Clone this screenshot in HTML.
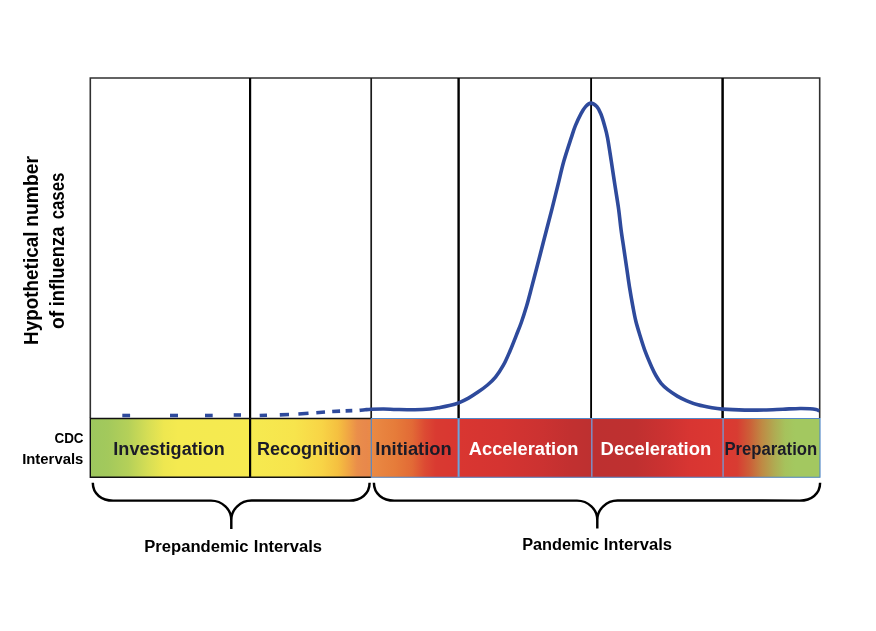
<!DOCTYPE html>
<html lang="en">
<head>
<meta charset="utf-8">
<title>CDC Pandemic Intervals</title>
<style>
html,body{margin:0;padding:0;background:#fff;}
body{width:876px;height:631px;overflow:hidden;}
svg{display:block;}
text{font-family:"Liberation Sans",sans-serif;font-weight:bold;}
.lbl{font-size:18px;}
</style>
</head>
<body>
<svg width="876" height="631" viewBox="0 0 876 631">
<defs>
<linearGradient id="band" gradientUnits="userSpaceOnUse" x1="90" y1="0" x2="820" y2="0">
<stop offset="0.0000" stop-color="#9dc75e"/>
<stop offset="0.0247" stop-color="#a3c95c"/>
<stop offset="0.0521" stop-color="#b4d059"/>
<stop offset="0.0795" stop-color="#d6de55"/>
<stop offset="0.1014" stop-color="#eee750"/>
<stop offset="0.1205" stop-color="#f4ea50"/>
<stop offset="0.2192" stop-color="#f6ea50"/>
<stop offset="0.2808" stop-color="#f7e44c"/>
<stop offset="0.3178" stop-color="#f8d446"/>
<stop offset="0.3397" stop-color="#f5c040"/>
<stop offset="0.3548" stop-color="#f0a444"/>
<stop offset="0.3658" stop-color="#ea8e4a"/>
<stop offset="0.3781" stop-color="#e8884c"/>
<stop offset="0.3849" stop-color="#ea8a44"/>
<stop offset="0.4178" stop-color="#e67c3a"/>
<stop offset="0.4411" stop-color="#e26a36"/>
<stop offset="0.4589" stop-color="#dc4a33"/>
<stop offset="0.4740" stop-color="#d93a31"/>
<stop offset="0.5055" stop-color="#d93631"/>
<stop offset="0.5616" stop-color="#d53431"/>
<stop offset="0.6164" stop-color="#cc3231"/>
<stop offset="0.6575" stop-color="#c23030"/>
<stop offset="0.6877" stop-color="#bd3030"/>
<stop offset="0.7466" stop-color="#bf3030"/>
<stop offset="0.7877" stop-color="#cc3231"/>
<stop offset="0.8219" stop-color="#d83532"/>
<stop offset="0.8658" stop-color="#dc3832"/>
<stop offset="0.8863" stop-color="#d83c32"/>
<stop offset="0.9041" stop-color="#cc6038"/>
<stop offset="0.9205" stop-color="#bf8a44"/>
<stop offset="0.9370" stop-color="#b0aa52"/>
<stop offset="0.9521" stop-color="#a6c25c"/>
<stop offset="0.9658" stop-color="#a3c860"/>
<stop offset="1.0000" stop-color="#a3c860"/>
</linearGradient>
</defs>
<rect x="0" y="0" width="876" height="631" fill="#ffffff"/>
<!-- colour band -->
<rect x="90" y="418" width="730" height="59.5" fill="url(#band)"/>
<!-- plot frame -->
<g fill="none" stroke="#303030" stroke-width="1.6">
<path d="M90.3 418 V78 H819.7 V418"/>
</g>
<!-- interval dividers -->
<g stroke="#000" fill="none">
<line x1="250.1" y1="78" x2="250.1" y2="477.5" stroke-width="2.2"/>
<line x1="371.2" y1="78" x2="371.2" y2="418" stroke-width="1.7" stroke="#1a1a1a"/>
<line x1="458.6" y1="78" x2="458.6" y2="418" stroke-width="2.4"/>
<line x1="591.1" y1="78" x2="591.1" y2="418" stroke-width="1.85"/>
<line x1="722.6" y1="78" x2="722.6" y2="418" stroke-width="2.5"/>
</g>
<!-- band borders -->
<path d="M371.3 418.5 H90.3 V477.3 H371.3" fill="none" stroke="#111" stroke-width="1.4"/>
<path d="M371.3 418.5 H820 V477.2 H371.3 Z" fill="none" stroke="#5288c8" stroke-width="1.15"/>
<path d="M458.6 419 V476.8" fill="none" stroke="#6ba3dc" stroke-width="2"/>
<path d="M591.8 419 V476.8 M723.1 419 V476.8" fill="none" stroke="#7f8fc4" stroke-width="1.5"/>
<!-- epidemic curve -->
<g stroke="#2e4a9c" stroke-width="3.6" fill="none">
<line x1="122.3" y1="415.50" x2="130.1" y2="415.50"/><line x1="170.0" y1="415.50" x2="178.0" y2="415.50"/><line x1="205.0" y1="415.50" x2="212.7" y2="415.50"/><line x1="233.7" y1="415.00" x2="241.0" y2="415.00"/><line x1="259.7" y1="415.50" x2="267.0" y2="415.26"/><line x1="279.8" y1="414.84" x2="289.0" y2="414.45"/><line x1="298.4" y1="413.98" x2="308.5" y2="413.31"/><line x1="316.3" y1="412.69" x2="325.0" y2="412.03"/><line x1="332.2" y1="411.52" x2="340.1" y2="411.09"/><line x1="345.6" y1="410.88" x2="352.3" y2="410.63"/>
<path d="M359.60 410.40 C360.50 410.30 363.05 409.98 365.00 409.80 C366.95 409.62 368.18 409.43 371.30 409.30 C374.42 409.17 379.50 408.97 383.70 409.00 C387.90 409.03 391.32 409.37 396.50 409.50 C401.68 409.63 409.22 409.88 414.80 409.80 C420.38 409.72 425.80 409.38 430.00 409.00 C434.20 408.62 436.75 408.07 440.00 407.50 C443.25 406.93 446.38 406.38 449.50 405.60 C452.62 404.82 455.53 404.05 458.70 402.80 C461.87 401.55 465.28 399.88 468.50 398.10 C471.72 396.32 474.83 394.28 478.00 392.10 C481.17 389.92 484.58 387.50 487.50 385.00 C490.42 382.50 492.85 380.40 495.50 377.10 C498.15 373.80 501.03 369.43 503.40 365.20 C505.77 360.97 507.58 356.60 509.70 351.70 C511.82 346.80 514.17 340.67 516.10 335.80 C518.03 330.93 519.55 327.45 521.30 322.50 C523.05 317.55 524.87 312.00 526.60 306.10 C528.33 300.20 530.02 293.45 531.70 287.10 C533.38 280.75 535.05 274.35 536.70 268.00 C538.35 261.65 539.97 255.33 541.60 249.00 C543.23 242.67 544.77 236.68 546.50 230.00 C548.23 223.32 550.10 216.38 552.00 208.90 C553.90 201.42 555.93 193.03 557.90 185.10 C559.87 177.17 561.57 169.22 563.80 161.30 C566.03 153.38 569.37 143.53 571.30 137.60 C573.23 131.67 573.80 129.67 575.40 125.70 C577.00 121.73 579.20 116.98 580.90 113.80 C582.60 110.62 583.95 108.38 585.60 106.60 C587.25 104.82 588.93 103.10 590.80 103.10 C592.67 103.10 595.13 104.82 596.80 106.60 C598.47 108.38 599.50 110.62 600.80 113.80 C602.10 116.98 603.48 121.73 604.60 125.70 C605.72 129.67 606.38 131.67 607.50 137.60 C608.62 143.53 610.07 153.38 611.30 161.30 C612.53 169.22 613.68 177.17 614.90 185.10 C616.12 193.03 617.57 201.42 618.60 208.90 C619.63 216.38 620.22 223.32 621.10 230.00 C621.98 236.68 622.97 242.67 623.90 249.00 C624.83 255.33 625.77 261.65 626.70 268.00 C627.63 274.35 628.48 280.75 629.50 287.10 C630.52 293.45 631.75 300.45 632.80 306.10 C633.85 311.75 634.58 316.05 635.80 321.00 C637.02 325.95 638.52 330.68 640.10 335.80 C641.68 340.92 643.33 346.42 645.30 351.70 C647.27 356.98 650.13 363.53 651.90 367.50 C653.67 371.47 654.37 372.85 655.90 375.50 C657.43 378.15 659.12 381.03 661.10 383.40 C663.08 385.77 665.10 387.58 667.80 389.70 C670.50 391.82 674.13 394.25 677.30 396.10 C680.47 397.95 683.37 399.35 686.80 400.80 C690.23 402.25 693.93 403.68 697.90 404.80 C701.87 405.92 706.50 406.78 710.60 407.50 C714.70 408.22 716.82 408.67 722.50 409.10 C728.18 409.53 737.80 409.95 744.70 410.10 C751.60 410.25 757.52 410.15 763.90 410.00 C770.28 409.85 776.98 409.45 783.00 409.20 C789.02 408.95 795.50 408.57 800.00 408.50 C804.50 408.43 807.33 408.62 810.00 408.80 C812.67 408.98 814.45 409.27 816.00 409.60 C817.55 409.93 818.75 410.60 819.30 410.80" stroke-linejoin="round"/>
</g>
<!-- band labels -->
<g class="lbl" fill="#1b1b28">
<text x="113.33" y="454.6" textLength="111.50" lengthAdjust="spacingAndGlyphs">Investigation</text>
<text x="257.00" y="454.6" textLength="104.19" lengthAdjust="spacingAndGlyphs">Recognition</text>
<text x="375.31" y="454.6" textLength="76.42" lengthAdjust="spacingAndGlyphs">Initiation</text>
<text x="468.77" y="454.6" textLength="109.69" lengthAdjust="spacingAndGlyphs" fill="#ffffff">Acceleration</text>
<text x="600.58" y="454.6" textLength="110.61" lengthAdjust="spacingAndGlyphs" fill="#ffffff">Deceleration</text>
<text x="724.46" y="454.6" textLength="92.69" lengthAdjust="spacingAndGlyphs">Preparation</text>
</g>
<!-- side label -->
<g fill="#000" font-size="15.5">
<text x="54.46" y="443" textLength="29.09" lengthAdjust="spacingAndGlyphs">CDC</text>
<text x="22.16" y="463.6" textLength="61.17" lengthAdjust="spacingAndGlyphs">Intervals</text>
</g>
<!-- y axis label -->
<g fill="#000" font-size="20">
<g transform="translate(37.9 400) rotate(-90)">
<text x="55.12" y="0" textLength="113.28" lengthAdjust="spacingAndGlyphs">Hypothetical</text>
<text x="173.35" y="0" textLength="70.61" lengthAdjust="spacingAndGlyphs">number</text>
</g>
<g transform="translate(64 400) rotate(-90)">
<text x="71.02" y="0" textLength="18.22" lengthAdjust="spacingAndGlyphs">of</text>
<text x="93.66" y="0" textLength="79.71" lengthAdjust="spacingAndGlyphs">influenza</text>
<text x="180.65" y="0" textLength="46.70" lengthAdjust="spacingAndGlyphs">cases</text>
</g>
</g>
<!-- braces -->
<g fill="none" stroke="#000" stroke-width="2.45" stroke-linecap="butt">
<path d="M92.8 482.8 C92.8 494.1 101.9 500.6 113.1 500.6 H211.0 C222.2 500.6 231.3 509.3 231.3 520.1 V529 M231.3 520.1 C231.3 509.3 240.4 500.6 251.6 500.6 H349.3 C360.5 500.6 369.6 494.1 369.6 482.8"/>
<path d="M373.9 482.8 C373.9 494.1 383.0 500.6 394.2 500.6 H577.0 C588.2 500.6 597.3 509.3 597.3 520.1 V528.6 M597.3 520.1 C597.3 509.3 606.4 500.6 617.6 500.6 H799.8 C811.0 500.6 820.1 494.1 820.1 482.8"/>
</g>
<!-- brace labels -->
<g fill="#000" font-size="16">
<text x="144.25" y="551.7" textLength="104.27" lengthAdjust="spacingAndGlyphs">Prepandemic</text>
<text x="253.86" y="551.7" textLength="68.15" lengthAdjust="spacingAndGlyphs">Intervals</text>
<text x="522.20" y="550.3" textLength="76.95" lengthAdjust="spacingAndGlyphs">Pandemic</text>
<text x="603.75" y="550.3" textLength="68.22" lengthAdjust="spacingAndGlyphs">Intervals</text>
</g>
</svg>
</body>
</html>
